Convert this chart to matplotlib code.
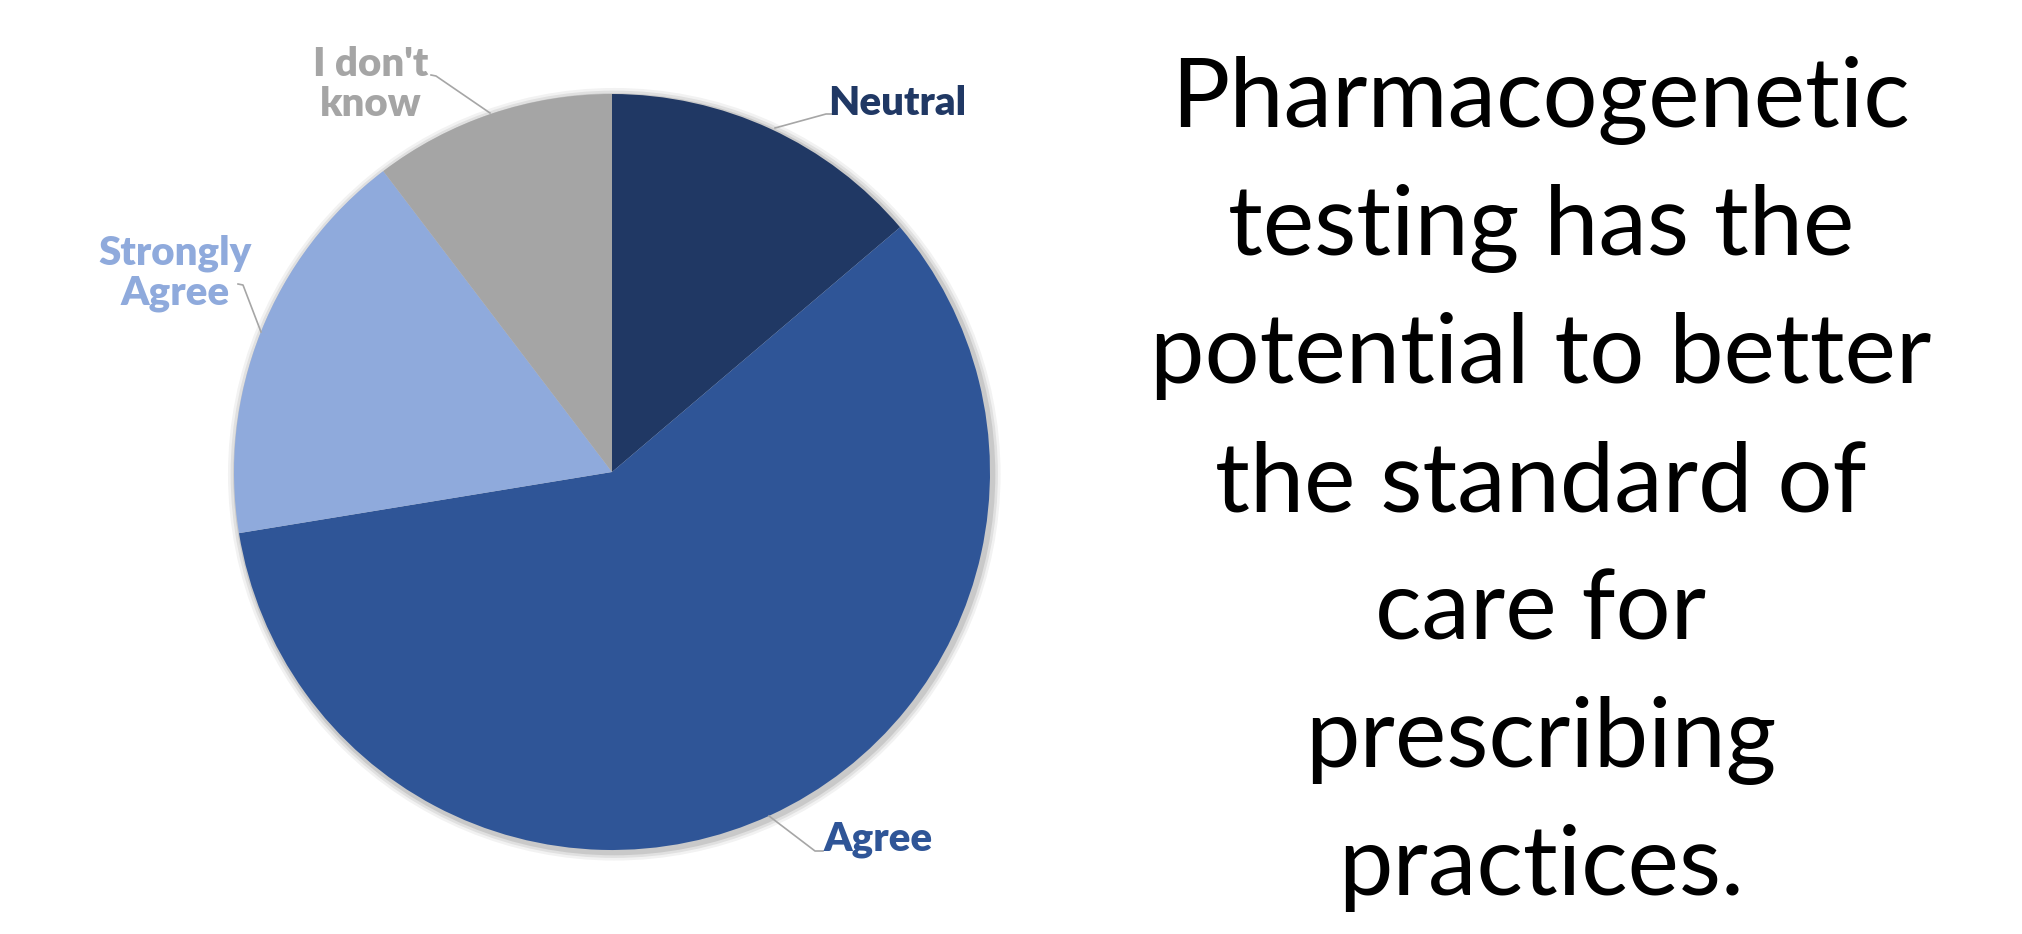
import matplotlib
matplotlib.use("Agg")
import matplotlib.pyplot as plt
from matplotlib.patches import Circle
import numpy as np

categories = ["Neutral", "Agree", "Strongly\nAgree", "I don't\nknow"]
counts = [4, 17, 5, 3]
colors = ["#203864", "#2F5597", "#8FAADC", "#A5A5A5"]
title_lines = ["Pharmacogenetic", "testing has the", "potential to better",
               "the standard of", "care for", "prescribing", "practices."]

W, H = 2022, 934
fig = plt.figure(figsize=(W / 100, H / 100), dpi=100)

# pie geometry (pixels)
cx, cy, R = 612, 472, 378
half = 450
ax = fig.add_axes([(cx - half) / W, (H - cy - half) / H, 2 * half / W, 2 * half / H])
lim = half / R

# soft shadow
for r, a in [(1.022, 0.05), (1.015, 0.07), (1.008, 0.10)]:
    ax.add_patch(Circle((0.006, -0.006), r, color="#000000", alpha=a, lw=0, zorder=0))

wedges, _ = ax.pie(counts, colors=colors, startangle=90, counterclock=False,
                   radius=1.0, wedgeprops=dict(linewidth=0))
for w in wedges:
    w.set_zorder(2)
ax.set_xlim(-lim, lim)
ax.set_ylim(-lim, lim)
ax.set_aspect("equal")
ax.axis("off")

# label centres (pixels, full-size image)
label_px = [(897, 103), (878, 840), (175, 273), (371, 84)]
for i, cat in enumerate(categories):
    tx_px, ty_px = label_px[i]
    tx, ty = (tx_px - cx) / R, (cy - ty_px) / R
    ax.text(tx, ty, cat, ha="center", va="center", fontsize=29, fontweight="heavy",
            family="Lato", color=colors[i], linespacing=1.1, zorder=5)

# leader lines (pixels): from pie edge via elbow to text
leaders = [[(775, 128), (826, 114), (832, 114)],
           [(769, 816), (815, 851), (823, 851)],
           [(261, 332), (243, 285), (238, 284)],
           [(490, 113), (436, 76), (431, 75)]]
for pts in leaders:
    xs = [(p[0] - cx) / R for p in pts]
    ys = [(cy - p[1]) / R for p in pts]
    ax.plot(xs, ys, color="#A6A6A6", lw=1.2, zorder=4)

# title text
x_title = 1541 / W
for i, line in enumerate(title_lines):
    yb = 127 + i * 128
    fig.text(x_title, 1 - yb / H, line, ha="center", va="baseline",
             fontsize=70, family="Lato", color="black")

fig.savefig("out.png", dpi=100, facecolor="white")
